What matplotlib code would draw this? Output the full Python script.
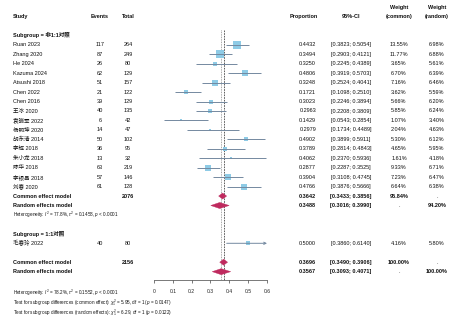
import numpy as np
import matplotlib
matplotlib.use('Agg')
import matplotlib.pyplot as plt
import matplotlib.transforms as mtransforms
from matplotlib.patches import Polygon

plt.rcParams['font.family'] = ['Liberation Sans', 'Noto Sans CJK SC']
plt.rcParams['mathtext.fontset'] = 'custom'
plt.rcParams['mathtext.rm'] = 'Liberation Sans'
plt.rcParams['mathtext.it'] = 'Liberation Sans:italic'
plt.rcParams['mathtext.bf'] = 'Liberation Sans:bold'

# ==========================================
# DATA
# ==========================================
studies_g1 = ['Ruan 2023', 'Zhang 2020', 'He 2024', 'Kazuma 2024', 'Atsushi 2018',
              'Chen 2022', 'Chen 2016', '王冰 2020', '袁晓军 2022', '杨明坤 2020',
              '胡东清 2014', '李辉 2018', '朱小龙 2018', '陈华 2018', '李银昌 2018', '刘春 2020']
events_g1 = [117, 87, 26, 62, 51, 21, 39, 40, 6, 14, 50, 36, 13, 63, 57, 61]
totals_g1 = [264, 249, 80, 129, 157, 122, 129, 135, 42, 47, 102, 95, 32, 219, 146, 128]
prop_g1 = [0.4432, 0.3494, 0.3250, 0.4806, 0.3248, 0.1721, 0.3023, 0.2963, 0.1429, 0.2979,
           0.4902, 0.3789, 0.4062, 0.2877, 0.3904, 0.4766]
lo_g1 = [0.3823, 0.2903, 0.2245, 0.3919, 0.2524, 0.1098, 0.2246, 0.2208, 0.0543, 0.1734,
         0.3899, 0.2814, 0.2370, 0.2287, 0.3108, 0.3876]
hi_g1 = [0.5054, 0.4121, 0.4389, 0.5703, 0.4041, 0.2510, 0.3894, 0.3809, 0.2854, 0.4489,
         0.5911, 0.4843, 0.5936, 0.3525, 0.4745, 0.5666]
wc_g1 = [13.55, 11.77, 3.65, 6.70, 7.16, 3.62, 5.66, 5.85, 1.07, 2.04, 5.30, 4.65, 1.61, 9.33, 7.23, 6.64]
wr_g1 = [6.98, 6.88, 5.61, 6.39, 6.46, 5.59, 6.20, 6.24, 3.40, 4.63, 6.12, 5.95, 4.18, 6.71, 6.47, 6.38]

studies_g2 = ['毛春玲 2022']
events_g2 = [40]
totals_g2 = [80]
prop_g2 = [0.5000]
lo_g2 = [0.3860]
hi_g2 = [0.6140]
wc_g2 = [4.16]
wr_g2 = [5.80]

# subgroup 1 pooled: (estimate, lower, upper)
g1_common = (0.3642, 0.3433, 0.3856)
g1_random = (0.3488, 0.3016, 0.3990)
g1_total = 2076
g1_wc, g1_wr = 95.84, 94.20
g1_het = (77.8, 0.1458, '< 0.0001')

# overall pooled
all_common = (0.3696, 0.3490, 0.3906)
all_random = (0.3567, 0.3093, 0.4071)
all_total = 2156
all_het = (78.2, 0.1552, '< 0.0001')
test_common = (5.95, 1, '0.0147')
test_random = (6.29, 1, '0.0122')

subgroup_labels = ['Subgroup = 非1:1对照', 'Subgroup = 1:1对照']
xticks = [0, 0.1, 0.2, 0.3, 0.4, 0.5, 0.6]
xtick_labels = ['0', '0.1', '0.2', '0.3', '0.4', '0.5', '0.6']

# ==========================================
# LAYOUT
# ==========================================
W, H = 475, 322
Y0, DY = 16.5, 9.45          # pixel y of header row, row spacing
FS = 4.0                     # main font size
FS_SMALL = 3.3
SQ_COL = '#8ecbe6'
LINE_COL = '#7489a0'
DIA_COL = '#bf2a5e'

# column x positions (pixels)
X_STUDY = 13
X_EVENTS = 100
X_TOTAL = 128
X_PROP = 316
X_CI = 351
X_WC = 399
X_WR = 437


def row(px):
    return (px - Y0) / DY


fig = plt.figure(figsize=(W / 100, H / 100), dpi=100)
ax = fig.add_axes([154 / W, 0, 113 / W, 1])
ax.set_xlim(0, 0.6)
ax.set_ylim(row(H), row(0))
ax.set_facecolor('none')
for s in ['top', 'left', 'right']:
    ax.spines[s].set_visible(False)

AX_ROW = row(280)
ax.spines['bottom'].set_position(('data', AX_ROW))
ax.spines['bottom'].set_bounds(0, 0.6)
ax.spines['bottom'].set_linewidth(0.5)
ax.spines['bottom'].set_color('#444444')
ax.set_xticks(xticks)
ax.set_xticklabels(xtick_labels)
ax.tick_params(axis='x', length=2.2, width=0.5, colors='#444444', labelsize=3.6, pad=4, labelcolor='#222222')
ax.set_yticks([])

trans = mtransforms.blended_transform_factory(fig.transFigure, ax.transData)


def put(xpx, r, s, ha='left', bold=False, size=FS, color='#111111'):
    fig.text(xpx / W, r, s, transform=trans, ha=ha, va='center', fontsize=size,
             fontweight='bold' if bold else 'normal', color=color)


def study_row(r, name, ev, tot, p, lo, hi, wc, wr):
    put(X_STUDY, r, name)
    put(X_EVENTS, r, str(ev), ha='center')
    put(X_TOTAL, r, str(tot), ha='center')
    put(X_PROP, r, f'{p:.4f}', ha='right')
    put(X_CI, r, f'[{lo:.4f}; {hi:.4f}]', ha='center')
    put(X_WC, r, f'{wc:.2f}%', ha='center')
    put(X_WR, r, f'{wr:.2f}%', ha='center')
    side = 7.6 * np.sqrt(wc / 13.55) * 0.72
    ax.plot([p], [r], marker='s', markersize=side, color=SQ_COL, markeredgewidth=0, zorder=2)
    if hi > 0.6:
        ax.annotate('', xy=(0.6, r), xytext=(lo, r),
                    arrowprops=dict(arrowstyle='->', lw=0.7, color=LINE_COL, mutation_scale=4,
                                    shrinkA=0, shrinkB=0), zorder=3)
    else:
        ax.plot([lo, hi], [r, r], color=LINE_COL, lw=0.7, zorder=3, solid_capstyle='butt')


def pooled_row(r, label, est, wc_txt, wr_txt, total=None):
    put(X_STUDY, r, label, bold=True)
    if total is not None:
        put(X_TOTAL, r, str(total), ha='center', bold=True)
    put(X_PROP, r, f'{est[0]:.4f}', ha='right', bold=True)
    put(X_CI, r, f'[{est[1]:.4f}; {est[2]:.4f}]', ha='center', bold=True)
    put(X_WC, r, wc_txt, ha='center', bold=wc_txt != '.')
    put(X_WR, r, wr_txt, ha='center', bold=wr_txt != '.')
    h = 0.32
    pts = [(est[1], r), (est[0], r - h), (est[2], r), (est[0], r + h)]
    ax.add_patch(Polygon(pts, closed=True, facecolor=DIA_COL, edgecolor=DIA_COL, lw=0.3, zorder=4))


# headers
put(X_STUDY, 0, 'Study', bold=True)
put(X_EVENTS, 0, 'Events', ha='center', bold=True)
put(X_TOTAL, 0, 'Total', ha='center', bold=True)
put(318, 0, 'Proportion', ha='right', bold=True)
put(X_CI, 0, '95%-CI', ha='center', bold=True)
put(X_WC, row(7.5), 'Weight', ha='center', bold=True)
put(X_WC, 0, '(common)', ha='center', bold=True)
put(X_WR, row(7.5), 'Weight', ha='center', bold=True)
put(X_WR, 0, '(random)', ha='center', bold=True)

# reference lines
ax.vlines(all_random[0], row(30), AX_ROW, colors='#8a8a8a', linestyles=(0, (1, 1)), lw=0.6, zorder=1)
ax.vlines(all_common[0], row(30), AX_ROW, colors='#444444', linestyles=(0, (2, 1.2)), lw=0.6, zorder=1)

# subgroup 1
put(X_STUDY, 2, subgroup_labels[0], bold=True)
for i in range(len(studies_g1)):
    study_row(3 + i, studies_g1[i], events_g1[i], totals_g1[i], prop_g1[i],
              lo_g1[i], hi_g1[i], wc_g1[i], wr_g1[i])
pooled_row(19, 'Common effect model', g1_common, f'{g1_wc:.2f}%', '.', total=g1_total)
pooled_row(20, 'Random effects model', g1_random, '.', f'{g1_wr:.2f}%')
put(X_STUDY, 21, r'Heterogeneity: $I^2$ = %.1f%%, $\tau^2$ = %.4f, $p$ %s' % g1_het, size=FS_SMALL)

# subgroup 2
put(X_STUDY, 23, subgroup_labels[1], bold=True)
for i in range(len(studies_g2)):
    study_row(24 + i, studies_g2[i], events_g2[i], totals_g2[i], prop_g2[i],
              lo_g2[i], hi_g2[i], wc_g2[i], wr_g2[i])

# overall
pooled_row(26, 'Common effect model', all_common, '100.00%', '.', total=all_total)
pooled_row(27, 'Random effects model', all_random, '.', '100.00%')

put(X_STUDY, row(293), r'Heterogeneity: $I^2$ = %.1f%%, $\tau^2$ = %.4f, $p$ %s' % all_het, size=FS_SMALL)
put(X_STUDY, row(302.5), r'Test for subgroup differences (common effect): $\chi^2_1$ = %.2f, df = %d ($p$ = %s)' % test_common, size=FS_SMALL)
put(X_STUDY, row(312.5), r'Test for subgroup differences (random effects): $\chi^2_1$ = %.2f, df = %d ($p$ = %s)' % test_random, size=FS_SMALL)

fig.savefig('out.png', dpi=100)
